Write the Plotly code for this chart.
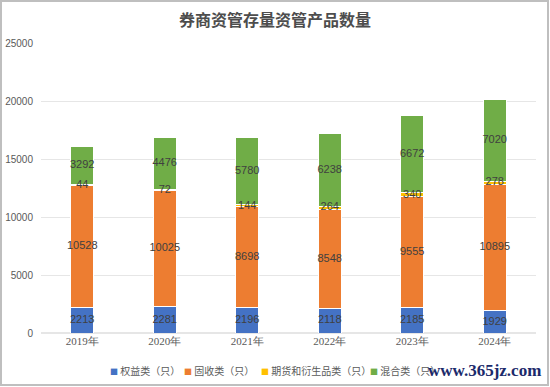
import plotly.graph_objects as go

years = ["2019年", "2020年", "2021年", "2022年", "2023年", "2024年"]
equity = [2213, 2281, 2196, 2118, 2185, 1929]
fixed_income = [10528, 10025, 8698, 8548, 9555, 10895]
futures = [44, 72, 144, 264, 340, 278]
mixed = [3292, 4476, 5780, 6238, 6672, 7020]

series = [
    ("权益类（只）", equity, "#4472C4"),
    ("固收类（只）", fixed_income, "#ED7D31"),
    ("期货和衍生品类（只）", futures, "#FFC000"),
    ("混合类（只）", mixed, "#70AD47"),
]

W, H = 550, 387
L, R, T, B = 41, 14, 43, 54
pw = W - L - R
ph = H - T - B

fig = go.Figure()
for name, vals, color in series:
    fig.add_trace(go.Bar(
        x=years, y=vals, name=name, showlegend=False,
        marker=dict(color=color, line=dict(color="white", width=1)),
        hoverinfo="x+y+name",
    ))

# data labels drawn on top of all bars, at the middle of each stacked segment
base = [0] * len(years)
for name, vals, color in series:
    mids = [b + v / 2 for b, v in zip(base, vals)]
    fig.add_trace(go.Scatter(
        x=years, y=mids, mode="text", text=[str(v) for v in vals],
        textposition="middle center", showlegend=False, hoverinfo="skip",
        textfont=dict(size=11, color="#404040", family="Liberation Sans"),
        cliponaxis=False,
    ))
    base = [b + v for b, v in zip(base, vals)]

fig.update_layout(
    width=W, height=H,
    barmode="stack", bargap=0.72,
    margin=dict(l=L, r=R, t=T, b=B),
    paper_bgcolor="white", plot_bgcolor="white",
    title=dict(text="<b>券商资管存量资管产品数量</b>", x=0.5, xanchor="center",
               y=1 - 20 / H, yanchor="middle",
               font=dict(size=16, color="#4D4D4D", family="Noto Sans CJK SC")),
    font=dict(family="Noto Sans CJK SC", color="#595959"),
    xaxis=dict(showgrid=False, showline=False, ticks="", automargin=False,
               tickfont=dict(size=11, color="#595959", family="Liberation Serif")),
    yaxis=dict(range=[0, 25000], dtick=5000, tickformat="d", showgrid=True, gridcolor="#E6E6E6",
               gridwidth=1, zeroline=True, zerolinecolor="#E6E6E6", showline=False,
               automargin=False,
               tickfont=dict(size=10, color="#595959", family="Liberation Sans"),
               ticklabelstandoff=7),
    showlegend=False,
)

fig.add_shape(type="rect", xref="paper", yref="paper",
              x0=-(L - 1) / pw, x1=1 + (R - 2) / pw,
              y0=-(B - 2) / ph, y1=1 + (T - 1) / ph,
              line=dict(color="#BFBFBF", width=2), fillcolor="rgba(0,0,0,0)", layer="below")

# legend row (symbol + label), laid out left to right below the axis
legend_x = [108, 182, 259, 368]
legend_y = -(370 - (H - B)) / ph
for (name, vals, color), lx in zip(series, legend_x):
    fig.add_annotation(
        text=f"<span style='color:{color};font-size:8px'>■</span> {name}",
        xref="paper", yref="paper", x=(lx - L) / pw, y=legend_y,
        xanchor="left", yanchor="middle", showarrow=False,
        font=dict(size=10, color="#595959", family="Noto Sans CJK SC"))

fig.add_annotation(text="<b>www.365jz.com</b>", xref="paper", yref="paper",
                   x=(484 - L) / pw, y=-(370 - (H - B)) / ph, xanchor="center", yanchor="middle",
                   showarrow=False,
                   font=dict(size=17, color="#1B2A6B", family="Liberation Serif"))

fig.write_html("out.html", config={"displayModeBar": False},
               post_script="document.body.style.margin='0';document.body.style.overflow='hidden';")
